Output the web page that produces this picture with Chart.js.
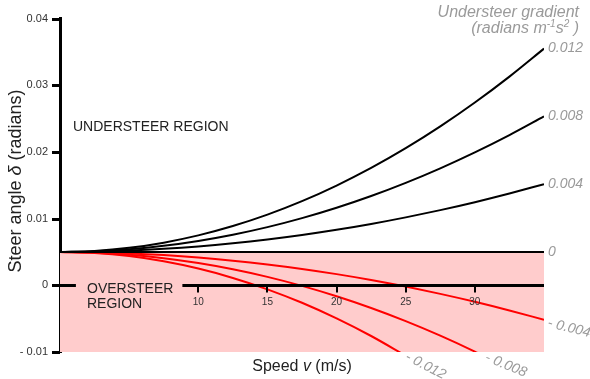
<!DOCTYPE html>
<html><head><meta charset="utf-8">
<style>html,body{margin:0;padding:0;background:#fff;}canvas{display:block;}</style>
<script src="https://cdn.jsdelivr.net/npm/chart.js@4.4.1/dist/chart.umd.min.js"></script>
</head><body>
<canvas id="c" width="590" height="379"></canvas>
<script>
// ---- data ----
const speeds = [0, 2.5, 5, 7.5, 10, 12.5, 15, 17.5, 20, 22.5, 25, 27.5, 30, 32.5, 35];
const gradientLabels = ['0.012', '0.008', '0.004', '0', '- 0.004', '- 0.008', '- 0.012'];
const steerK012  = [0.00500, 0.00516, 0.00562, 0.00640, 0.00749, 0.00889, 0.01060, 0.01262, 0.01496, 0.01760, 0.02056, 0.02383, 0.02741, 0.03130, 0.03550];
const steerK008  = [0.00500, 0.00510, 0.00541, 0.00593, 0.00666, 0.00759, 0.00873, 0.01008, 0.01164, 0.01340, 0.01537, 0.01755, 0.01994, 0.02253, 0.02533];
const steerK004  = [0.00500, 0.00505, 0.00521, 0.00547, 0.00583, 0.00630, 0.00687, 0.00754, 0.00832, 0.00920, 0.01019, 0.01128, 0.01247, 0.01377, 0.01517];
const steerK0    = [0.00500, 0.00500, 0.00500, 0.00500, 0.00500, 0.00500, 0.00500, 0.00500, 0.00500, 0.00500, 0.00500, 0.00500, 0.00500, 0.00500, 0.00500];
const steerKn004 = [0.00500, 0.00495, 0.00479, 0.00453, 0.00417, 0.00370, 0.00313, 0.00246, 0.00168, 0.00080, -0.00019, -0.00128, -0.00247, -0.00377, -0.00517];
const steerKn008 = [0.00500, 0.00490, 0.00459, 0.00407, 0.00334, 0.00241, 0.00127, -0.00008, -0.00164, -0.00340, -0.00537, -0.00755, -0.00994, -0.01253];
const steerKn012 = [0.00500, 0.00484, 0.00438, 0.00360, 0.00251, 0.00111, -0.00060, -0.00262, -0.00496, -0.00760, -0.01056];
const yTicks = [-0.01, 0, 0.01, 0.02, 0.03, 0.04];
const yTickLabels = ['- 0.01', '0', '0.01', '0.02', '0.03', '0.04'];
const xTicks = [10, 15, 20, 25, 30];
const xTickLabels = ['10', '15', '20', '25', '30'];

// ---- styling ----
const PINK = '#ffcccc';
const RED = '#ff0000';
const GREY = '#9a9a9a';
const FONT = '"Liberation Sans", Arial, Helvetica, sans-serif';
const seriesValues = [steerK012, steerK008, steerK004, steerK0, steerKn004, steerKn008, steerKn012];
const seriesColors = ['#000', '#000', '#000', '#000', RED, RED, RED];
const labelStyle = [
  {dx: 4, dy: 0, rot: 0}, {dx: 4, dy: 0, rot: 0}, {dx: 4, dy: 0, rot: 0}, {dx: 4, dy: 0, rot: 0},
  {dx: 4, dy: 3, rot: 14}, {dx: 10, dy: 5, rot: 22}, {dx: 7, dy: 4, rot: 27}
];

const datasets = seriesValues.map((vals, i) => ({
  label: gradientLabels[i],
  data: vals.map((v, j) => ({x: speeds[j], y: v})),
  borderColor: seriesColors[i],
  borderWidth: 2,
  pointRadius: 0,
  cubicInterpolationMode: 'monotone',
  fill: i === 3 ? 'start' : false,
  backgroundColor: i === 3 ? PINK : 'transparent'
}));

function drawRich(ctx, parts, x, y, align) {
  let w = 0;
  parts.forEach(p => { ctx.font = p.font; w += ctx.measureText(p.t).width; });
  let cx = align === 'center' ? x - w / 2 : (align === 'right' ? x - w : x);
  parts.forEach(p => {
    ctx.font = p.font;
    ctx.fillText(p.t, cx, y + (p.dy || 0));
    cx += ctx.measureText(p.t).width;
  });
}

const annot = {
  id: 'annot',
  afterDraw(chart) {
    const {ctx, chartArea} = chart;
    const xs = chart.scales.x, ys = chart.scales.y;
    ctx.save();
    const y0 = Math.round(ys.getPixelForValue(0)) + 0.5;
    // y-axis tick marks
    ctx.strokeStyle = '#000';
    ctx.lineWidth = 3;
    yTicks.forEach(v => {
      const py = Math.round(ys.getPixelForValue(v)) + 0.5;
      ctx.beginPath(); ctx.moveTo(chartArea.left - 8, py); ctx.lineTo(chartArea.left, py); ctx.stroke();
    });
    // x axis drawn at y = 0
    ctx.beginPath(); ctx.moveTo(chartArea.left, y0); ctx.lineTo(chartArea.right, y0); ctx.stroke();
    ctx.lineWidth = 2;
    xTicks.forEach(v => {
      const px = Math.round(xs.getPixelForValue(v));
      ctx.beginPath(); ctx.moveTo(px, y0); ctx.lineTo(px, y0 + 7); ctx.stroke();
    });
    ctx.fillStyle = '#333';
    ctx.font = '10px ' + FONT;
    ctx.textAlign = 'center';
    ctx.textBaseline = 'middle';
    xTicks.forEach((v, i) => ctx.fillText(xTickLabels[i], xs.getPixelForValue(v), y0 + 17));
    // gap in the x axis line behind the OVERSTEER text
    const g1 = xs.getPixelForValue(1.15), g2 = xs.getPixelForValue(8.85);
    ctx.fillStyle = PINK;
    ctx.fillRect(g1, y0 - 3, g2 - g1, 6);
    // region texts
    ctx.fillStyle = '#222';
    ctx.font = '14px ' + FONT;
    ctx.textBaseline = 'middle';
    ctx.textAlign = 'left';
    ctx.fillText('UNDERSTEER REGION', 73, 127);
    ctx.fillText('OVERSTEER', 87, 289);
    ctx.fillText('REGION', 87, 304);
    // curve labels
    ctx.fillStyle = GREY;
    ctx.font = 'italic 14px ' + FONT;
    chart.data.datasets.forEach((ds, i) => {
      const pts = chart.getDatasetMeta(i).data;
      let ax = pts[pts.length - 1].x, ay = pts[pts.length - 1].y;
      for (let j = 1; j < pts.length; j++) {
        if (pts[j].y > chartArea.bottom) {
          const p0 = pts[j - 1], p1 = pts[j];
          const t = (chartArea.bottom - p0.y) / (p1.y - p0.y);
          ax = p0.x + t * (p1.x - p0.x); ay = chartArea.bottom;
          break;
        }
      }
      const s = labelStyle[i];
      ctx.save();
      ctx.translate(ax + s.dx, ay + s.dy);
      ctx.rotate(s.rot * Math.PI / 180);
      ctx.textAlign = 'left';
      ctx.textBaseline = 'middle';
      ctx.fillText(ds.label, 0, 0);
      ctx.restore();
    });
    // legend title
    ctx.textBaseline = 'alphabetic';
    ctx.textAlign = 'left';
    ctx.fillStyle = GREY;
    drawRich(ctx, [{t: 'Understeer gradient', font: 'italic 16px ' + FONT}], 579, 17, 'right');
    drawRich(ctx, [
      {t: '(radians m', font: 'italic 16px ' + FONT},
      {t: '-1', font: 'italic 10px ' + FONT, dy: -6},
      {t: 's', font: 'italic 16px ' + FONT},
      {t: '2', font: 'italic 10px ' + FONT, dy: -6},
      {t: ' )', font: 'italic 16px ' + FONT}
    ], 579, 33, 'right');
    // axis titles
    ctx.fillStyle = '#222';
    drawRich(ctx, [
      {t: 'Speed ', font: '16px ' + FONT},
      {t: 'v', font: 'italic 16px ' + FONT},
      {t: ' (m/s)', font: '16px ' + FONT}
    ], 302, 371, 'center');
    ctx.save();
    ctx.translate(21, 181);
    ctx.rotate(-Math.PI / 2);
    drawRich(ctx, [
      {t: 'Steer angle ', font: '18px ' + FONT},
      {t: 'δ', font: 'italic 18px ' + FONT},
      {t: ' (radians)', font: '18px ' + FONT}
    ], 0, 0, 'center');
    ctx.restore();
    ctx.restore();
  }
};

new Chart(document.getElementById('c'), {
  type: 'line',
  data: {datasets},
  options: {
    responsive: false,
    devicePixelRatio: 1,
    animation: false,
    layout: {padding: {top: 18, right: 46, bottom: 27, left: 0}},
    plugins: {legend: {display: false}, tooltip: {enabled: false}, filler: {drawTime: 'beforeDatasetsDraw'}},
    scales: {
      x: {
        type: 'linear', min: 0, max: 35,
        display: false
      },
      y: {
        type: 'linear', min: -0.01, max: 0.04,
        position: 'left',
        afterFit: s => { s.width = 60; },
        afterBuildTicks: s => { s.ticks = yTicks.map(v => ({value: v})); },
        ticks: {
          callback: v => yTickLabels[yTicks.findIndex(t => Math.abs(t - v) < 1e-9)],
          font: {family: FONT, size: 11}, color: '#333', padding: 12
        },
        grid: {display: false, drawTicks: false},
        border: {display: true, width: 3, color: '#000'}
      }
    }
  },
  plugins: [annot]
});
</script>
</body></html>
